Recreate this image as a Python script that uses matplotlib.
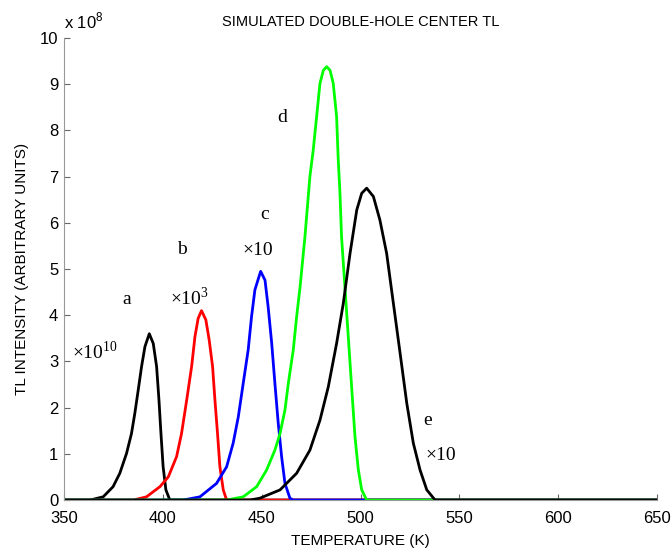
import matplotlib
matplotlib.use("Agg")
import matplotlib.pyplot as plt

plt.rcParams['font.family'] = ['Liberation Sans', 'DejaVu Sans']

# Curve points (temperature in K, intensity in 1e8 units)
temp_a = [350, 363.2, 369.9, 374.9, 378.3, 381.7, 384.2, 385.9, 387.6, 389.3, 391.0, 393.2,
          395.2, 396.9, 398.1, 399.1, 400.2, 401.6, 403.6, 650]
tl_a = [0, 0, 0.07, 0.29, 0.58, 1.01, 1.44, 1.88, 2.38, 2.89, 3.32, 3.6,
        3.39, 2.89, 2.16, 1.44, 0.72, 0.22, 0, 0]

temp_b = [350, 385.1, 391.8, 398.6, 402.8, 407.0, 409.5, 412.1, 414.6, 416.3, 417.9, 419.6,
          421.8, 423.5, 425.2, 426.4, 427.7, 428.9, 430.6, 432.3, 650]
tl_b = [0, 0, 0.07, 0.29, 0.5, 0.94, 1.44, 2.16, 2.89, 3.54, 3.93, 4.1,
        3.9, 3.46, 2.89, 2.16, 1.44, 0.72, 0.22, 0, 0]

temp_c = [350, 410.3, 418.8, 427.2, 432.3, 435.6, 438.2, 440.7, 443.2, 444.9, 446.6, 449.5,
          451.7, 453.3, 455.1, 456.7, 458.4, 460.1, 461.8, 464.3, 466.0, 650]
tl_c = [0, 0, 0.07, 0.36, 0.72, 1.23, 1.8, 2.53, 3.25, 3.97, 4.55, 4.95,
        4.76, 4.18, 3.39, 2.53, 1.66, 0.94, 0.36, 0.04, 0, 0]

temp_d = [350, 432.3, 440.7, 447.5, 452.5, 456.7, 459.3, 461.8, 463.5, 466.0, 467.7, 469.4,
          471.9, 474.4, 476.1, 477.8, 479.5, 481.2, 482.9, 484.6, 486.2, 487.9, 488.7,
          489.6, 490.4, 492.1, 493.8, 495.5, 497.2, 498.9, 500.6, 503.1, 650]
tl_d = [0, 0, 0.07, 0.29, 0.65, 1.08, 1.44, 1.95, 2.53, 3.25, 3.97, 4.6,
        5.7, 7.0, 7.58, 8.3, 9.02, 9.3, 9.38, 9.3, 9.02, 8.3, 7.4,
        6.64, 5.7, 4.62, 3.54, 2.45, 1.37, 0.65, 0.22, 0, 0]

temp_e = [350, 444.0, 449.1, 459.3, 467.7, 474.4, 479.5, 483.7, 487.9, 491.3, 494.7, 498.1,
          500.6, 503.1, 506.5, 509.8, 513.2, 516.6, 520.0, 523.4, 526.7, 530.1, 533.5,
          537.7, 650]
tl_e = [0, 0, 0.04, 0.22, 0.58, 1.08, 1.73, 2.45, 3.39, 4.26, 5.34, 6.28,
        6.64, 6.75, 6.57, 6.06, 5.34, 4.26, 3.18, 2.09, 1.23, 0.65, 0.22,
        0, 0]

fig = plt.figure(figsize=(6.72, 5.55), dpi=100)
ax = fig.add_axes([0.095, 0.099, 0.883, 0.8325])

lw = 2.0
style = dict(lw=lw, solid_joinstyle='round', solid_capstyle='round')
ax.plot(temp_a, tl_a, color='black', **style)
ax.plot(temp_b, tl_b, color='#ff0000', **style)
ax.plot(temp_c, tl_c, color='#0000ff', **style)
ax.plot(temp_d, tl_d, color='#00ff00', **style)
ax.plot(temp_e, tl_e, color='black', **style)

ax.set_xlim(350, 650)
ax.set_ylim(0, 10)
ax.set_xticks([350, 400, 450, 500, 550, 600, 650])
ax.set_yticks(range(0, 11))

for s in ['top', 'right']:
    ax.spines[s].set_visible(False)
ax.spines['left'].set_color('#999999')
ax.spines['bottom'].set_color('#999999')
ax.tick_params(direction='in', length=4, color='#666666', labelsize=12)
ax.tick_params(axis='x', pad=8)
ax.tick_params(axis='y', pad=4)

# Labels
ax.set_title('SIMULATED DOUBLE-HOLE CENTER TL', fontsize=10.5, pad=9)
ax.set_xlabel('TEMPERATURE (K)', fontsize=11, labelpad=6)
ax.set_ylabel('TL INTENSITY (ARBITRARY UNITS)', fontsize=11, labelpad=8)
ax.text(0.0, 1.015, r'x 10$^{\mathregular{8}}$', transform=ax.transAxes, fontsize=12, va='bottom')

serif = ['Liberation Serif', 'DejaVu Serif']
notes = [
    (382.0, 4.33, 'a'),
    (354.0, 3.2, r'×10$^{\mathregular{10}}$'),
    (409.7, 5.43, 'b'),
    (403.6, 4.37, r'×10$^{\mathregular{3}}$'),
    (451.7, 6.17, 'c'),
    (440.5, 5.41, '×10'),
    (460.3, 8.29, 'd'),
    (534.1, 1.73, 'e'),
    (532.6, 0.97, '×10'),
]
for x, y, t in notes:
    ha = 'center' if len(t) == 1 else 'left'
    ax.text(x, y, t, family=serif, fontsize=14, ha=ha, va='center')

fig.savefig('out.png', dpi=100)
